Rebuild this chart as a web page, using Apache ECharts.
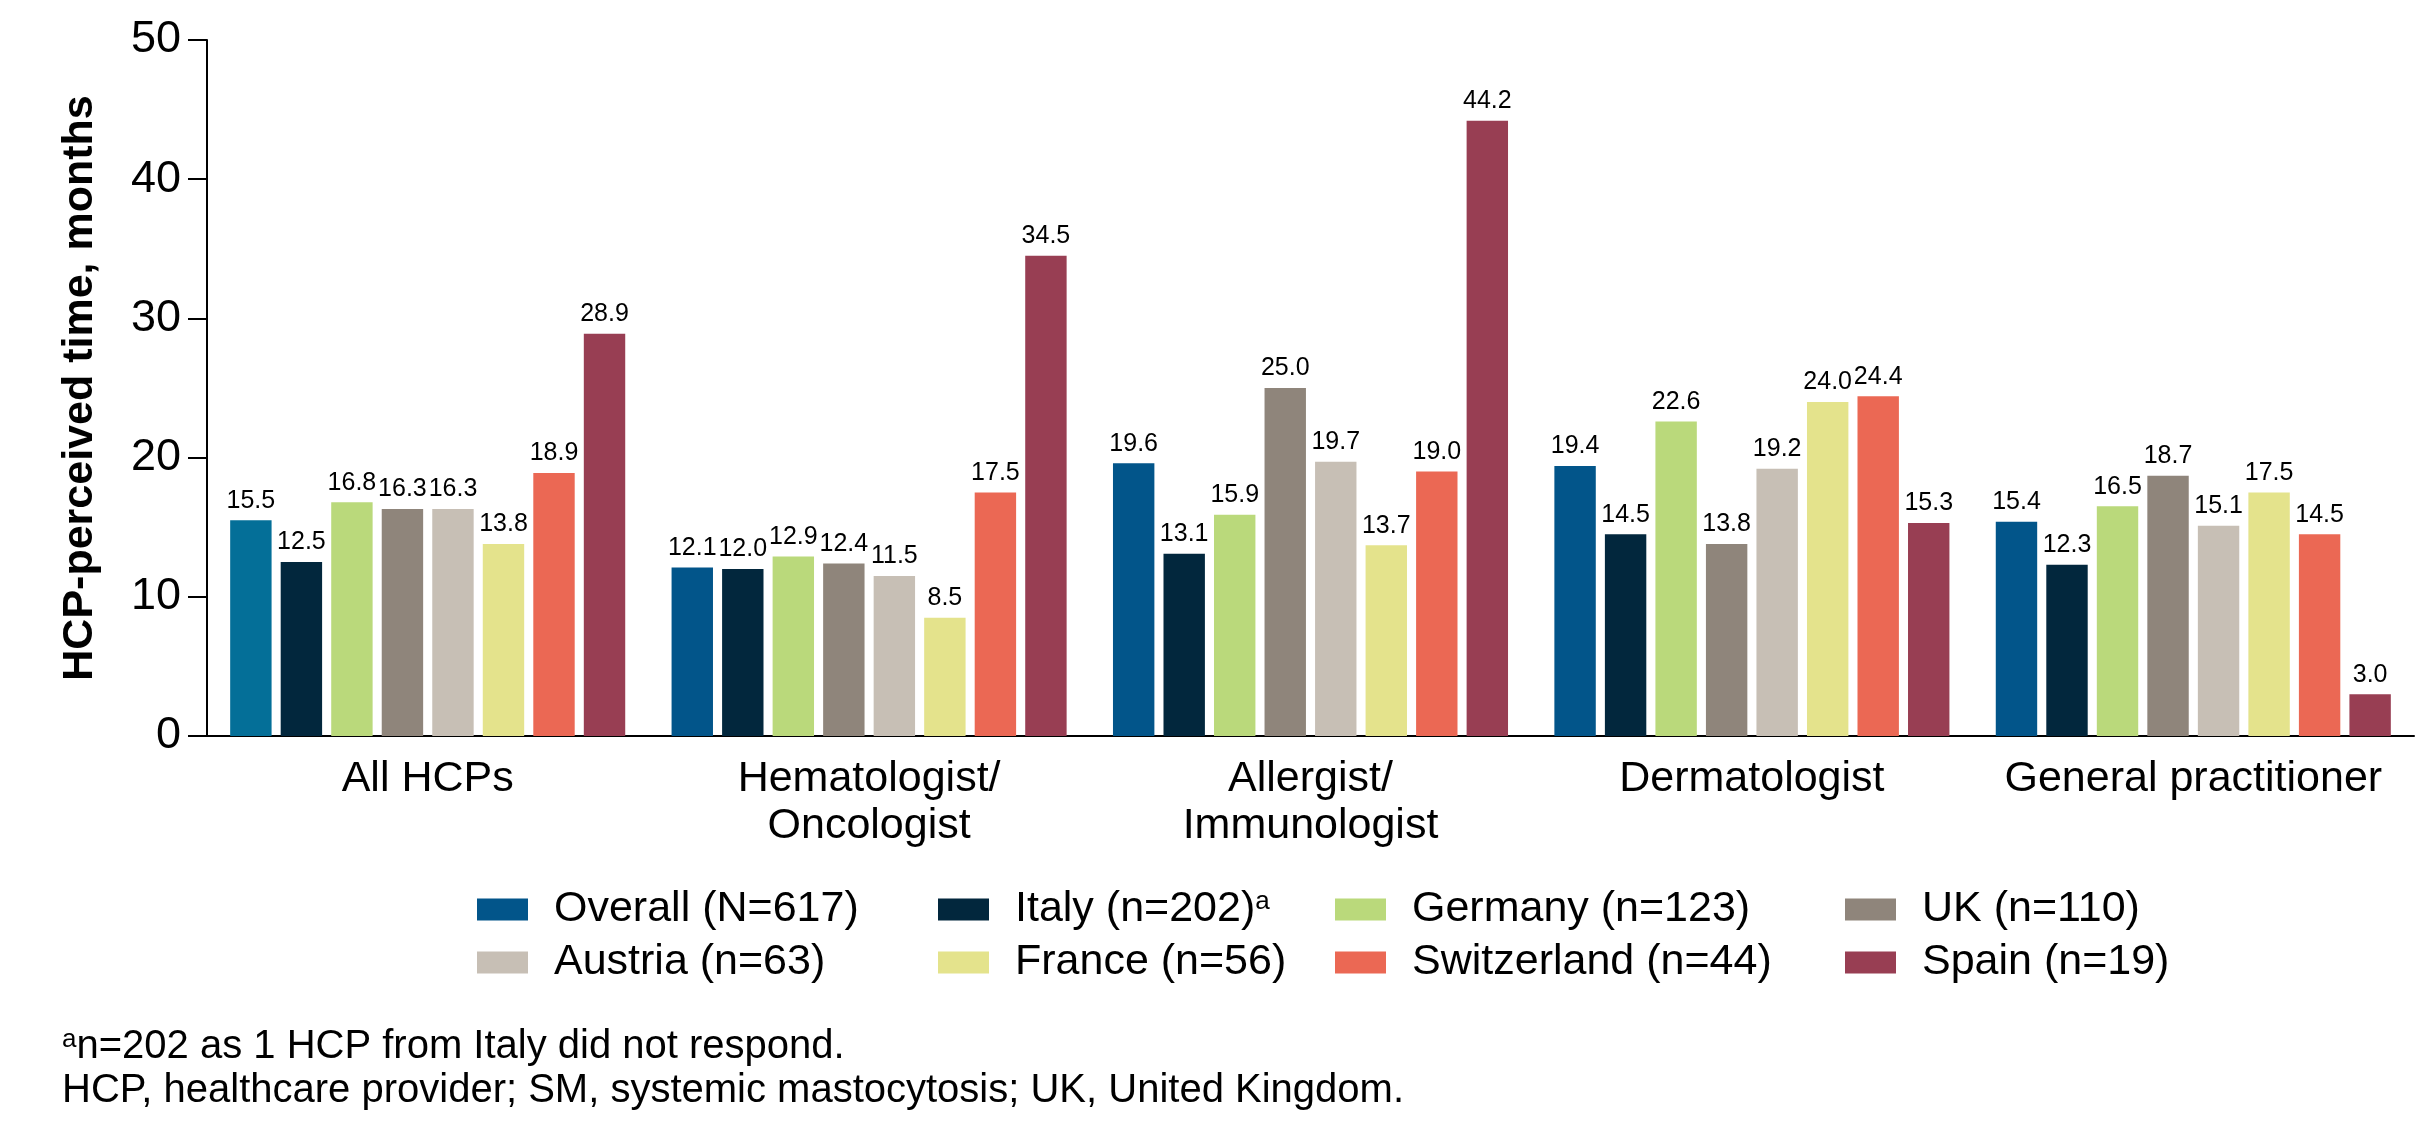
<!DOCTYPE html>
<html>
<head>
<meta charset="utf-8">
<script src="https://cdn.jsdelivr.net/npm/echarts@6/dist/echarts.min.js"></script>
<style>
  html, body { margin: 0; padding: 0; background: #ffffff; }
  #chart { width: 2434px; height: 1123px; }
</style>
</head>
<body>
<div id="chart"></div>
<script>
// categories on the x axis
const groups = ['All HCPs', 'Hematologist/\nOncologist', 'Allergist/\nImmunologist', 'Dermatologist', 'General practitioner'];

// one array per country (values in months)
const overall = [15.5, 12.1, 19.6, 19.4, 15.4];
const italy = [12.5, 12.0, 13.1, 14.5, 12.3];
const germany = [16.8, 12.9, 15.9, 22.6, 16.5];
const uk = [16.3, 12.4, 25.0, 13.8, 18.7];
const austria = [16.3, 11.5, 19.7, 19.2, 15.1];
const france = [13.8, 8.5, 13.7, 24.0, 17.5];
const switzerland = [18.9, 17.5, 19.0, 24.4, 14.5];
const spain = [28.9, 34.5, 44.2, 15.3, 3.0];

const yTicks = { min: 0, max: 50, interval: 10 };
const FONT = 'Liberation Sans, Arial, sans-serif';

const seriesDefs = [
  { name: 'Overall (N=617)', values: overall, color: '#02558A' },
  { name: 'Italy (n=202)', values: italy, color: '#02273D' },
  { name: 'Germany (n=123)', values: germany, color: '#BAD97B' },
  { name: 'UK (n=110)', values: uk, color: '#8F857B' },
  { name: 'Austria (n=63)', values: austria, color: '#C7BFB5' },
  { name: 'France (n=56)', values: france, color: '#E4E38C' },
  { name: 'Switzerland (n=44)', values: switzerland, color: '#EB6854' },
  { name: 'Spain (n=19)', values: spain, color: '#983E53' }
];

// legend is laid out in 4 columns of 2 rows
const legendCols = [
  { left: 472, names: ['Overall (N=617)', 'Austria (n=63)'] },
  { left: 933, names: ['Italy (n=202)', 'France (n=56)'] },
  { left: 1330, names: ['Germany (n=123)', 'Switzerland (n=44)'] },
  { left: 1840, names: ['UK (n=110)', 'Spain (n=19)'] }
];

const series = seriesDefs.map(function (s, i) {
  return {
    name: s.name,
    type: 'bar',
    barGap: '22%',
    barCategoryGap: '10.5%',
    itemStyle: { color: s.color },
    data: s.values.map(function (v, j) {
      // the first Overall bar is drawn in a lighter teal in the original
      if (i === 0 && j === 0) {
        return { value: v, itemStyle: { color: '#046F98' } };
      }
      return v;
    }),
    label: {
      show: true,
      position: 'top',
      distance: 7,
      fontSize: 25,
      fontFamily: FONT,
      color: '#000',
      formatter: function (p) { return p.value.toFixed(1); }
    },
    emphasis: { disabled: true }
  };
});

const legends = legendCols.map(function (c) {
  return {
    orient: 'vertical',
    left: c.left,
    top: 883,
    itemWidth: 51,
    itemHeight: 22,
    itemGap: 10,
    icon: 'rect',
    selectedMode: false,
    data: c.names,
    formatter: function (name) {
      if (name === 'Italy (n=202)') return name + '{s|a}';
      return name;
    },
    textStyle: {
      fontSize: 43,
      fontFamily: FONT,
      color: '#000',
      lineHeight: 42,
      padding: [0, 0, 0, 21],
      rich: {
        s: { fontSize: 26, fontFamily: FONT, color: '#000', verticalAlign: 'top', lineHeight: 42 }
      }
    }
  };
});

const option = {
  animation: false,
  backgroundColor: '#ffffff',
  textStyle: { fontFamily: FONT },
  grid: { left: 207, right: 20, top: 40, bottom: 387 },
  legend: legends,
  xAxis: {
    type: 'category',
    data: groups,
    axisLine: { show: true, lineStyle: { color: '#000', width: 2 } },
    axisTick: { show: false },
    axisLabel: {
      fontSize: 43,
      fontFamily: FONT,
      color: '#000',
      lineHeight: 47,
      margin: 20,
      interval: 0
    }
  },
  yAxis: {
    type: 'value',
    min: yTicks.min,
    max: yTicks.max,
    interval: yTicks.interval,
    name: 'HCP-perceived time, months',
    nameLocation: 'middle',
    nameGap: 105,
    nameTextStyle: { fontSize: 43, fontWeight: 'bold', fontFamily: FONT, color: '#000' },
    axisLine: { show: true, lineStyle: { color: '#000', width: 2 } },
    axisTick: { show: true, length: 19, lineStyle: { color: '#000', width: 2 } },
    axisLabel: { fontSize: 45, fontFamily: FONT, color: '#000', margin: 26 },
    splitLine: { show: false }
  },
  graphic: [
    {
      type: 'text',
      left: 62,
      top: 1027,
      style: {
        text: '{s|a}{t|n=202 as 1 HCP from Italy did not respond.}',
        fill: '#000',
        rich: {
          s: { fontSize: 26, fontFamily: FONT, fill: '#000', verticalAlign: 'top', lineHeight: 40 },
          t: { fontSize: 40, fontFamily: FONT, fill: '#000', lineHeight: 40 }
        }
      }
    },
    {
      type: 'text',
      left: 62,
      top: 1071,
      style: {
        text: 'HCP, healthcare provider; SM, systemic mastocytosis; UK, United Kingdom.',
        fontSize: 40,
        fontFamily: FONT,
        fill: '#000',
        lineHeight: 40
      }
    }
  ],
  series: series
};

const chart = echarts.init(document.getElementById('chart'));
chart.setOption(option);
</script>
</body>
</html>
